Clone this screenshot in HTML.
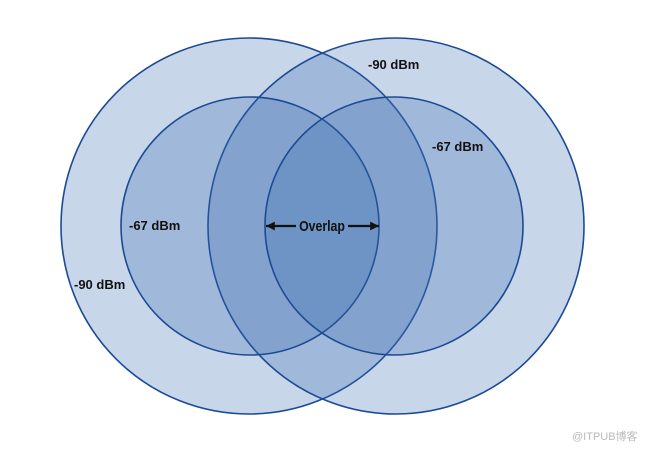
<!DOCTYPE html>
<html><head><style>body{margin:0;background:#fff}svg{display:block}</style></head>
<body>
<svg width="647" height="449" xmlns="http://www.w3.org/2000/svg">
<defs><marker id="a" viewBox="0 0 10 10" refX="10" refY="5" markerWidth="6" markerHeight="4" orient="auto"><path d="M0,0L10,5L0,10z" fill="#111"/></marker></defs>
<g fill="#3a6db0" fill-opacity="0.28" stroke="#1c4a94" stroke-width="1.6">
<circle cx="249" cy="226" r="188"/>
<circle cx="396" cy="226" r="188"/>
<circle cx="250" cy="226" r="129"/>
<circle cx="394" cy="226" r="129"/>
</g>
<g font-family="Liberation Sans, sans-serif" font-weight="bold" font-size="13" fill="#111">
<text x="368" y="69">-90 dBm</text>
<text x="432" y="151">-67 dBm</text>
<text x="129" y="230">-67 dBm</text>
<text x="74" y="289">-90 dBm</text>
<text x="322" y="231" text-anchor="middle" font-size="14.5" transform="translate(322 0) scale(0.85 1) translate(-322 0)">Overlap</text>
</g>
<line x1="296" y1="226" x2="266" y2="226" stroke="#111" stroke-width="2.2" marker-end="url(#a)"/>
<line x1="348" y1="226" x2="379" y2="226" stroke="#111" stroke-width="2.2" marker-end="url(#a)"/>
<text x="572" y="440" font-family="Liberation Sans, Noto Sans CJK SC, sans-serif" font-size="11" fill="#bbb">@ITPUB博客</text>
</svg>
</body></html>
